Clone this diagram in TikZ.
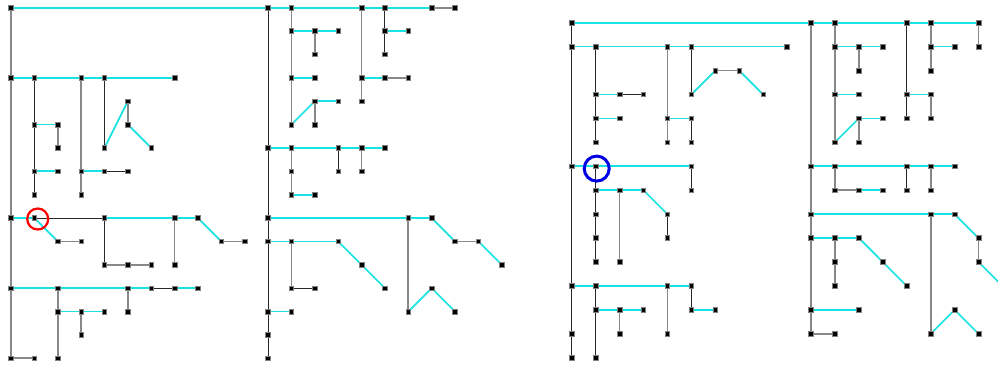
\documentclass[tikz,border=0pt]{standalone}
\definecolor{linkcyan}{RGB}{24, 226, 226}
\definecolor{linkgray}{RGB}{136, 136, 136}
\definecolor{linkdark}{RGB}{40, 40, 40}
\usepackage{tikz}
\usetikzlibrary{shapes, positioning, calc}
\pgfdeclarelayer{background}
\pgfsetlayers{background,main}

\begin{document}
\begin{tikzpicture}[
  x=1pt, y=-1pt,
  jbox/.style={draw=black!50, fill=black, minimum size=4.6pt, inner sep=0pt, line width=0.6pt},
  clink/.style={draw=linkcyan, line width=1.7pt},
  glink/.style={draw=linkgray, line width=1.8pt},
  dlink/.style={draw=linkdark, line width=0.9pt},
  ring/.style={circle, inner sep=0pt, fill=none}
]
  \useasboundingbox (0,0) rectangle (998,367);
  \clip (0,0) rectangle (998,367);

  % left tree
  \begin{scope}[xshift=11pt, yshift=-7.7pt, x=23.37pt, y=-23.37pt]
    \foreach \i/\j in {0/0,11/0,12/0,15/0,16/0,18/0,19/0,
      12/1,13/1,14/1,16/1,17/1, 13/2,16/2,
      0/3,1/3,3/3,4/3,7/3,12/3,13/3,15/3,16/3,17/3,
      5/4,13/4,14/4,15/4, 1/5,2/5,5/5,12/5,13/5,
      2/6,4/6,6/6,11/6,12/6,14/6,15/6,16/6,
      1/7,2/7,3/7,4/7,5/7,12/7,14/7,15/7, 1/8,3/8,12/8,13/8,
      0/9,1/9,4/9,7/9,8/9,11/9,17/9,18/9,
      2/10,3/10,9/10,10/10,11/10,12/10,14/10,19/10,20/10,
      4/11,5/11,6/11,7/11,15/11,21/11,
      0/12,2/12,5/12,6/12,7/12,8/12,12/12,13/12,16/12,18/12,
      2/13,3/13,4/13,5/13,11/13,12/13,17/13,19/13,
      3/14,11/14, 0/15,1/15,2/15,11/15}
      \node[jbox] (l-\i-\j) at (\i,\j) {};

    \begin{pgfonlayer}{background}
    \foreach \a/\b in {0-0/18-0, 0-3/7-3, 1-5/2-5, 1-7/2-7, 3-7/4-7, 4-6/5-4, 5-5/6-6,
      0-9/1-9, 4-9/8-9, 8-9/9-10, 1-9/2-10, 0-12/6-12, 7-12/8-12, 2-13/4-13,
      12-1/14-1, 12-3/13-3, 12-5/13-4, 13-4/14-4, 15-3/16-3, 16-1/17-1,
      11-6/16-6, 12-8/13-8, 11-9/18-9, 18-9/19-10, 20-10/21-11,
      17-13/18-12, 18-12/19-13, 11-10/14-10, 14-10/16-12, 11-13/12-13}
      \draw[clink] (l-\a.center) -- (l-\b.center);
    \foreach \a/\b in {0-0/0-15, 18-0/19-0, 3-3/3-8, 2-5/2-6, 5-4/5-5, 9-10/10-10,
      2-10/3-10, 4-11/6-11, 7-9/7-11, 2-12/2-15, 3-13/3-14, 5-12/5-13, 0-15/1-15,
      12-0/12-5, 13-1/13-2, 13-4/13-5, 15-0/15-4, 16-3/17-3, 12-6/12-8,
      15-6/15-7, 19-10/20-10, 17-9/17-13, 12-10/12-12}
      \draw[glink] (l-\a.center) -- (l-\b.center);
    \foreach \a/\b in {1-3/1-8, 4-3/4-6, 4-7/5-7, 1-9/4-9, 4-9/4-11, 6-12/7-12,
      11-0/11-15, 16-0/16-2, 14-6/14-7, 12-12/13-12}
      \draw[dlink] (l-\a.center) -- (l-\b.center);
    \end{pgfonlayer}
  \end{scope}

  % right tree
  \begin{scope}[xshift=571.7pt, yshift=-22.7pt, x=23.93pt, y=-23.93pt]
    \foreach \i/\j in {0/0,10/0,11/0,14/0,15/0,17/0,
      0/1,1/1,4/1,5/1,9/1,11/1,12/1,13/1,15/1,16/1,17/1,
      6/2,7/2,12/2,15/2, 1/3,2/3,3/3,5/3,8/3,11/3,12/3,14/3,15/3,
      1/4,2/4,4/4,5/4,12/4,13/4,14/4,15/4, 1/5,4/5,5/5,11/5,12/5,
      0/6,1/6,5/6,10/6,11/6,14/6,15/6,16/6,
      1/7,2/7,3/7,5/7,11/7,12/7,13/7,14/7,15/7,
      1/8,4/8,10/8,15/8,16/8, 1/9,4/9,10/9,11/9,12/9,17/9,
      1/10,2/10,11/10,13/10,17/10, 0/11,1/11,4/11,5/11,11/11,14/11,
      1/12,2/12,3/12,5/12,6/12,10/12,12/12,16/12,
      0/13,2/13,4/13,10/13,11/13,15/13,17/13, 0/14,1/14}
      \node[jbox] (r-\i-\j) at (\i,\j) {};
    \coordinate (r-18-11) at (18,11);

    \begin{pgfonlayer}{background}
    \foreach \a/\b in {0-0/17-0, 0-1/9-1, 1-3/2-3, 1-4/2-4, 4-4/5-4, 5-3/6-2, 7-2/8-3,
      0-6/5-6, 1-7/3-7, 3-7/4-8, 0-11/5-11, 1-12/3-12, 5-12/6-12,
      11-1/13-1, 11-3/12-3, 11-5/12-4, 12-4/13-4, 14-3/15-3, 15-1/16-1,
      10-6/16-6, 12-7/13-7, 10-8/16-8, 16-8/17-9, 17-10/18-11,
      15-13/16-12, 16-12/17-13, 10-9/12-9, 12-9/14-11, 10-12/12-12}
      \draw[clink] (r-\a.center) -- (r-\b.center);
    \foreach \a/\b in {17-0/17-1, 4-1/4-5, 6-2/7-2, 2-7/2-10, 2-12/2-13, 4-11/4-13,
      10-0/10-13, 10-13/11-13, 11-0/11-5, 12-1/12-2, 12-4/12-5, 15-3/15-4,
      15-0/15-2, 11-6/11-7, 11-7/12-7, 15-6/15-7, 17-9/17-10, 15-8/15-13, 11-9/11-11}
      \draw[glink] (r-\a.center) -- (r-\b.center);
    \foreach \a/\b in {0-0/0-14, 1-1/1-5, 2-3/3-3, 5-4/5-5, 5-1/5-3, 5-6/5-7,
      1-6/1-10, 4-8/4-9, 1-11/1-14, 5-11/5-12, 14-0/14-4, 14-6/14-7}
      \draw[dlink] (r-\a.center) -- (r-\b.center);
    \end{pgfonlayer}
  \end{scope}

  % marked junctions
  \node[ring, draw=red, line width=2.2pt, minimum size=21pt] (redring) at (37.7,219) {};
  \node[ring, draw=blue!90!black, line width=3pt, minimum size=25pt] (bluering) at (596.7,168.6) {};
\end{tikzpicture}
\end{document}
